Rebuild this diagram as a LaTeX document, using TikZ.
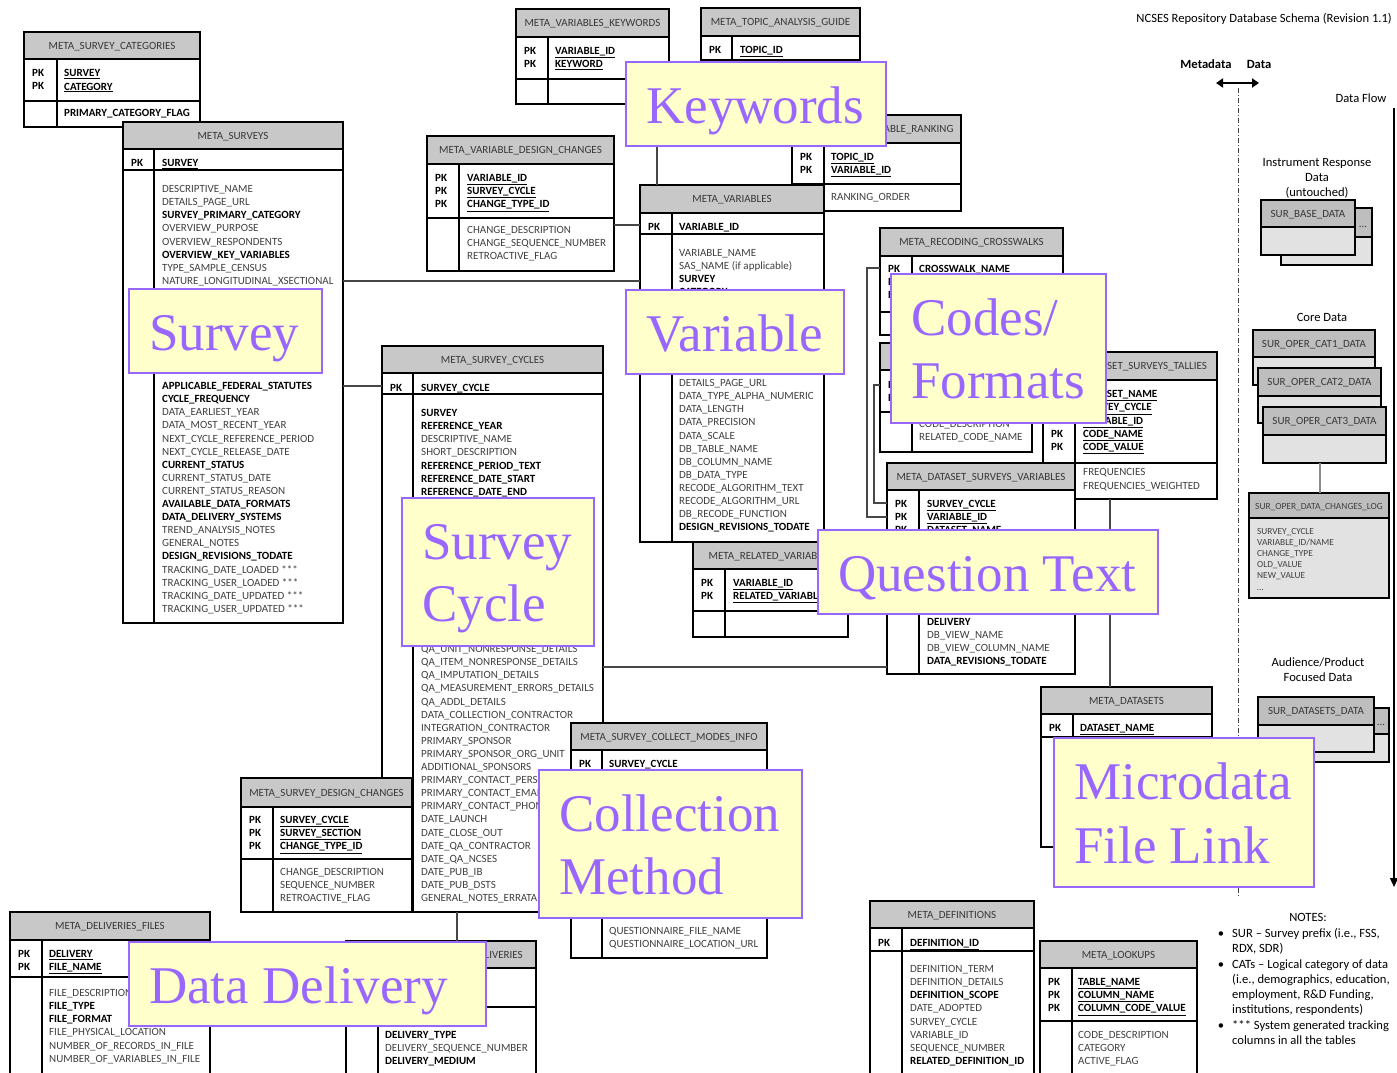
\documentclass[tikz,border=0pt]{standalone}
\usepackage{fontspec}
\setmainfont{Carlito}
\newfontfamily\labelfont{Liberation Serif}
\usetikzlibrary{arrows.meta}
\definecolor{hdrgray}{RGB}{200,200,200}
\definecolor{txtgray}{RGB}{64,64,64}
\definecolor{lblfill}{RGB}{255,255,204}
\definecolor{lblpurple}{RGB}{153,102,255}
\definecolor{dhdr}{RGB}{190,190,190}
\definecolor{dbody}{RGB}{226,226,226}
\newcommand\fldN[1]{\textcolor{txtgray}{#1}}
\newcommand\fldB[1]{\textbf{#1}}
\newcommand\fldU[1]{\textbf{\underline{#1}}}
\tikzset{
  tabshape/.style={fill=white, draw=none, inner sep=0pt, outer sep=0pt},
  datshape/.style={fill=dbody, draw=none, inner sep=0pt, outer sep=0pt},
  tabouter/.style={draw=black, line width=1.8pt},
  tabinner/.style={draw=black, line width=1.3pt},
  hdrtext/.style={font=\fontsize{11}{13}\selectfont, text=black!78, inner sep=0pt},
  fldtext/.style={font=\fontsize{11}{13}\selectfont, inner sep=0pt},
  logtext/.style={font=\fontsize{9.3}{11}\selectfont, text=txtgray, inner sep=0pt},
  conn/.style={draw=black!72, line width=1.1pt},
  lblbox/.style={fill=lblfill, draw=lblpurple, line width=1.6pt, inner sep=0pt, outer sep=0pt},
  lbltext/.style={font=\labelfont\fontsize{53}{60}\selectfont, text=lblpurple, inner sep=0pt},
  sidetext/.style={font=\fontsize{12.6}{15}\selectfont, inner sep=0pt},
}
\newcommand\ertab[9]{%
  \node[tabshape, anchor=north west, minimum width=#4pt-#2pt, minimum height=#5pt-#3pt] (#1) at (#2,#3) {};
  \fill[hdrgray] (#2,#3) rectangle (#4,#6);
  \draw[tabinner] (#2,#6) -- (#4,#6) (#2,#7) -- (#4,#7) (#8,#6) -- (#8,#5);
  \draw[tabouter] (#2,#3) rectangle (#4,#5);
  \node[hdrtext, anchor=base] (#1-title) at ({(#2+#4)/2},{(#3+#6)/2+3.6}) {#9};
}
\newcommand\ertfields[5]{%
  \foreach \tx [count=\k] in {#5} {
    \node[fldtext, anchor=base west] (#1-\k) at (#2,{#3+(\k-1)*#4+3.6}) {\tx};
  }}
\newcommand\ertpk[4]{%
  \foreach \k in {1,...,#4} {
    \node[fldtext, anchor=base west] (#1-pk\k) at (#2,{#3+(\k-1)*13.1+3.6}) {\textbf{PK}};
  }}
\newcommand\datbox[7]{%
  \node[datshape, anchor=north west, minimum width=#4pt-#2pt, minimum height=#5pt-#3pt] (#1) at (#2,#3) {};
  \fill[dhdr] (#2,#3) rectangle (#4,#6);
  \draw[tabinner] (#2,#6) -- (#4,#6);
  \draw[tabouter] (#2,#3) rectangle (#4,#5);
  \node[hdrtext, anchor=base] (#1-title) at ({(#2+#4)/2},{(#3+#6)/2+3.6}) {#7};
}
\newcommand\bigtag[5]{%
  \node[lblbox, anchor=north west, minimum width=#4pt-#2pt, minimum height=#5pt-#3pt] (#1) at (#2,#3) {};}
\begin{document}
\catcode`\_=12
\begin{tikzpicture}[x=1pt,y=-1pt]
\useasboundingbox (0,0) rectangle (1397,1073);
\fill[white] (0,0) rectangle (1397,1073);
\clip (0,0) rectangle (1397,1073);

% ---------- META_SURVEY_CATEGORIES
\ertab{cats}{24}{32}{200}{127}{59}{101}{57}{META_SURVEY_CATEGORIES}
\ertpk{cats}{32}{73}{2}
\ertfields{catsk}{64}{73}{13.5}{\fldU{SURVEY},\fldU{CATEGORY}}
\ertfields{catsa}{64}{113}{13}{\fldB{PRIMARY_CATEGORY_FLAG}}

% ---------- META_SURVEYS
\ertab{surveys}{123}{122}{343}{623}{149}{170}{154}{META_SURVEYS}
\ertpk{surveys}{131}{163}{1}
\ertfields{svk}{162}{163}{13}{\fldU{SURVEY}}
\ertfields{sva}{162}{189}{13.1}{\fldN{DESCRIPTIVE_NAME},\fldN{DETAILS_PAGE_URL},\fldB{SURVEY_PRIMARY_CATEGORY},\fldN{OVERVIEW_PURPOSE},\fldN{OVERVIEW_RESPONDENTS},\fldB{OVERVIEW_KEY_VARIABLES},\fldN{TYPE_SAMPLE_CENSUS},\fldN{NATURE_LONGITUDINAL_XSECTIONAL}}
\ertfields{svb}{162}{386}{13.1}{\fldB{APPLICABLE_FEDERAL_STATUTES},\fldB{CYCLE_FREQUENCY},\fldN{DATA_EARLIEST_YEAR},\fldN{DATA_MOST_RECENT_YEAR},\fldN{NEXT_CYCLE_REFERENCE_PERIOD},\fldN{NEXT_CYCLE_RELEASE_DATE},\fldB{CURRENT_STATUS},\fldN{CURRENT_STATUS_DATE},\fldN{CURRENT_STATUS_REASON},\fldB{AVAILABLE_DATA_FORMATS},\fldB{DATA_DELIVERY_SYSTEMS},\fldN{TREND_ANALYSIS_NOTES},\fldN{GENERAL_NOTES},\fldB{DESIGN_REVISIONS_TODATE},\fldN{TRACKING_DATE_LOADED ***},\fldN{TRACKING_USER_LOADED ***},\fldN{TRACKING_DATE_UPDATED ***},\fldN{TRACKING_USER_UPDATED ***}}

% ---------- META_VARIABLES_KEYWORDS
\ertab{kwtab}{516}{9}{669}{104}{37}{79}{548}{META_VARIABLES_KEYWORDS}
\ertpk{kwtab}{524}{51}{2}
\ertfields{kwk}{555}{51}{13.1}{\fldU{VARIABLE_ID},\fldU{KEYWORD}}

% ---------- META_TOPIC_ANALYSIS_GUIDE
\ertab{topic}{701}{8}{860}{100}{36}{60}{732}{META_TOPIC_ANALYSIS_GUIDE}
\ertpk{topic}{709}{50}{1}
\ertfields{topick}{740}{50}{13}{\fldU{TOPIC_ID}}

% ---------- META_TOPIC_VARIABLE_RANKING
\ertab{rank}{792}{115}{961}{211}{143}{184}{824}{META_TOPIC_VARIABLE_RANKING}
\ertpk{rank}{800}{157}{2}
\ertfields{rankk}{831}{157}{13.1}{\fldU{TOPIC_ID},\fldU{VARIABLE_ID}}
\ertfields{ranka}{831}{197}{13}{\fldN{RANKING_ORDER}}

% ---------- META_VARIABLE_DESIGN_CHANGES
\ertab{vdc}{427}{136}{614}{271}{164}{218}{459}{META_VARIABLE_DESIGN_CHANGES}
\ertpk{vdc}{435}{178}{3}
\ertfields{vdck}{467}{178}{13.1}{\fldU{VARIABLE_ID},\fldU{SURVEY_CYCLE},\fldU{CHANGE_TYPE_ID}}
\ertfields{vdca}{467}{230}{13}{\fldN{CHANGE_DESCRIPTION},\fldN{CHANGE_SEQUENCE_NUMBER},\fldN{RETROACTIVE_FLAG}}

% ---------- META_VARIABLES
\ertab{variables}{640}{185}{824}{542}{213}{234}{672}{META_VARIABLES}
\ertpk{variables}{648}{227}{1}
\ertfields{vark}{679}{227}{13}{\fldU{VARIABLE_ID}}
\ertfields{vara}{679}{253}{13.1}{\fldN{VARIABLE_NAME},\fldN{SAS_NAME (if applicable)},\fldB{SURVEY},\fldB{CATEGORY}}
\ertfields{varb}{679}{383}{13.1}{\fldN{DETAILS_PAGE_URL},\fldN{DATA_TYPE_ALPHA_NUMERIC},\fldN{DATA_LENGTH},\fldN{DATA_PRECISION},\fldN{DATA_SCALE},\fldN{DB_TABLE_NAME},\fldN{DB_COLUMN_NAME},\fldN{DB_DATA_TYPE},\fldN{RECODE_ALGORITHM_TEXT},\fldN{RECODE_ALGORITHM_URL},\fldN{DB_RECODE_FUNCTION},\fldB{DESIGN_REVISIONS_TODATE}}

% ---------- META_RELATED_VARIABLES
\ertab{relvar}{693}{542}{848}{637}{569}{611}{725}{META_RELATED_VARIABLES}
\ertpk{relvar}{701}{583}{2}
\ertfields{relk}{733}{583}{13.1}{\fldU{VARIABLE_ID},\fldU{RELATED_VARIABLE_ID}}

% ---------- META_SURVEY_CYCLES
\ertab{cycles}{382}{346}{603}{912}{373}{394}{413}{META_SURVEY_CYCLES}
\ertpk{cycles}{390}{388}{1}
\ertfields{cyck}{421}{388}{13}{\fldU{SURVEY_CYCLE}}
\ertfields{cyca}{421}{413}{13.1}{\fldB{SURVEY},\fldB{REFERENCE_YEAR},\fldN{DESCRIPTIVE_NAME},\fldN{SHORT_DESCRIPTION},\fldB{REFERENCE_PERIOD_TEXT},\fldB{REFERENCE_DATE_START},\fldB{REFERENCE_DATE_END}}
\ertfields{cycb}{421}{649}{13.1}{\fldN{QA_UNIT_NONRESPONSE_DETAILS},\fldN{QA_ITEM_NONRESPONSE_DETAILS},\fldN{QA_IMPUTATION_DETAILS},\fldN{QA_MEASUREMENT_ERRORS_DETAILS},\fldN{QA_ADDL_DETAILS},\fldN{DATA_COLLECTION_CONTRACTOR},\fldN{INTEGRATION_CONTRACTOR},\fldN{PRIMARY_SPONSOR},\fldN{PRIMARY_SPONSOR_ORG_UNIT},\fldN{ADDITIONAL_SPONSORS},\fldN{PRIMARY_CONTACT_PERSON},\fldN{PRIMARY_CONTACT_EMAIL},\fldN{PRIMARY_CONTACT_PHONE},\fldN{DATE_LAUNCH},\fldN{DATE_CLOSE_OUT},\fldN{DATE_QA_CONTRACTOR},\fldN{DATE_QA_NCSES},\fldN{DATE_PUB_IB},\fldN{DATE_PUB_DSTS},\fldN{GENERAL_NOTES_ERRATA}}

% ---------- META_SURVEY_DESIGN_CHANGES
\ertab{sdc}{241}{778}{412}{912}{807}{859}{273}{META_SURVEY_DESIGN_CHANGES}
\ertpk{sdc}{249}{820}{3}
\ertfields{sdck}{280}{820}{13.1}{\fldU{SURVEY_CYCLE},\fldU{SURVEY_SECTION},\fldU{CHANGE_TYPE_ID}}
\ertfields{sdca}{280}{872}{13}{\fldN{CHANGE_DESCRIPTION},\fldN{SEQUENCE_NUMBER},\fldN{RETROACTIVE_FLAG}}

% ---------- META_SURVEY_COLLECT_MODES_INFO
\ertab{collect}{571}{723}{767}{958}{750}{778}{602}{META_SURVEY_COLLECT_MODES_INFO}
\ertpk{collect}{579}{764}{1}
\ertfields{colk}{609}{764}{13}{\fldU{SURVEY_CYCLE}}
\ertfields{cola}{609}{931}{13}{\fldN{QUESTIONNAIRE_FILE_NAME},\fldN{QUESTIONNAIRE_LOCATION_URL}}

% ---------- META_DELIVERIES_FILES
\ertab{delfiles}{10}{912}{210}{1085}{940}{977}{42}{META_DELIVERIES_FILES}
\ertpk{delfiles}{18}{954}{2}
\ertfields{dfk}{49}{954}{13.1}{\fldU{DELIVERY},\fldU{FILE_NAME}}
\ertfields{dfa}{49}{993}{13.1}{\fldN{FILE_DESCRIPTION},\fldB{FILE_TYPE},\fldB{FILE_FORMAT},\fldN{FILE_PHYSICAL_LOCATION},\fldN{NUMBER_OF_RECORDS_IN_FILE},\fldN{NUMBER_OF_VARIABLES_IN_FILE}}

% ---------- META_DELIVERIES
\ertab{deliv}{346}{941}{536}{1085}{968}{1007}{378}{}
\node[hdrtext, anchor=base east] (deliv-name) at (523,958) {META_DELIVERIES};
\ertfields{dela}{385}{1035}{13}{\fldB{DELIVERY_TYPE},\fldN{DELIVERY_SEQUENCE_NUMBER},\fldB{DELIVERY_MEDIUM}}

% ---------- META_RECODING_CROSSWALKS
\ertab{xwalk}{880}{228}{1063}{335}{256}{312}{912}{META_RECODING_CROSSWALKS}
\ertpk{xwalk}{888}{269}{3}
\ertfields{xwk}{919}{269}{13}{\fldB{CROSSWALK_NAME}}

% ---------- codes table (title hidden)
\ertab{codes}{880}{343}{1032}{452}{370}{412}{912}{}
\ertpk{codes}{888}{385}{2}
\ertfields{coda}{919}{424}{13}{\fldN{CODE_DESCRIPTION},\fldN{RELATED_CODE_NAME}}

% ---------- META_DATASET_SURVEYS_TALLIES
\ertab{tallies}{1043}{352}{1217}{499}{380}{463}{1075}{META_DATASET_SURVEYS_TALLIES}
\ertpk{tallies}{1051}{434}{2}
\ertfields{talk}{1083}{394}{13.2}{\fldU{DATASET_NAME},\fldU{SURVEY_CYCLE},\fldU{VARIABLE_ID},\fldU{CODE_NAME},\fldU{CODE_VALUE}}
\ertfields{tala}{1083}{472}{13.5}{\fldN{FREQUENCIES},\fldN{FREQUENCIES_WEIGHTED}}

% ---------- META_DATASET_SURVEYS_VARIABLES
\ertab{dsv}{887}{463}{1075}{674}{490}{538}{919}{META_DATASET_SURVEYS_VARIABLES}
\ertpk{dsv}{895}{504}{3}
\ertfields{dsvk}{927}{504}{13.1}{\fldU{SURVEY_CYCLE},\fldU{VARIABLE_ID},\fldU{DATASET_NAME}}
\ertfields{dsva}{927}{622}{13.1}{\fldB{DELIVERY},\fldN{DB_VIEW_NAME},\fldN{DB_VIEW_COLUMN_NAME},\fldB{DATA_REVISIONS_TODATE}}

% ---------- META_DATASETS
\ertab{datasets}{1041}{687}{1212}{847}{714}{737}{1073}{META_DATASETS}
\ertpk{datasets}{1049}{728}{1}
\ertfields{dsk}{1080}{728}{13}{\fldU{DATASET_NAME}}

% ---------- META_DEFINITIONS
\ertab{defs}{870}{901}{1034}{1085}{928}{951}{902}{META_DEFINITIONS}
\ertpk{defs}{878}{943}{1}
\ertfields{defk}{910}{943}{13}{\fldU{DEFINITION_ID}}
\ertfields{defa}{910}{969}{13.1}{\fldN{DEFINITION_TERM},\fldN{DEFINITION_DETAILS},\fldB{DEFINITION_SCOPE},\fldN{DATE_ADOPTED},\fldN{SURVEY_CYCLE},\fldN{VARIABLE_ID},\fldN{SEQUENCE_NUMBER},\fldB{RELATED_DEFINITION_ID}}

% ---------- META_LOOKUPS
\ertab{lookups}{1040}{941}{1197}{1085}{968}{1021}{1072}{META_LOOKUPS}
\ertpk{lookups}{1048}{982}{3}
\ertfields{lkk}{1078}{982}{13.1}{\fldU{TABLE_NAME},\fldU{COLUMN_NAME},\fldU{COLUMN_CODE_VALUE}}
\ertfields{lka}{1078}{1035}{13}{\fldN{CODE_DESCRIPTION},\fldN{CATEGORY},\fldN{ACTIVE_FLAG}}

% ---------- connectors
\draw[conn] (surveys.east |- 0,281) -- (variables.west |- 0,281);
\draw[conn] (surveys.east |- 0,386) -- (cycles.west |- 0,386);
\draw[conn] (vdc.east |- 0,225) -- (variables.west |- 0,225);
\draw[conn] (kwtab.south -| 657,0) -- (variables.north -| 657,0);
\draw[conn] (cycles.east |- 0,667) -- (dsv.west |- 0,667);
\draw[conn] (xwalk.west |- 0,268) -- ++(-13,0) |- (dsv.west |- 0,517);
\draw[conn] (codes.west |- 0,385) -- ++(-6,0) |- (dsv.west |- 0,503);
\draw[conn] (tallies.south -| 1110,0) -- (datasets.north -| 1110,0);
\draw[conn] (cycles.south -| 457,0) -- (deliv.north -| 457,0);

% ---------- right side: data
\node[sidetext, anchor=base east] (title) at (1392,23) {NCSES Repository Database Schema (Revision 1.1)};
\node[sidetext, font=\fontsize{12.6}{15}\selectfont\bfseries, anchor=base] (mdtext) at (1206,69) {Metadata};
\node[sidetext, font=\fontsize{12.6}{15}\selectfont\bfseries, anchor=base] (dtext) at (1259,69) {Data};
\coordinate (mdl) at (1216,83);
\coordinate (mdr) at (1259,83);
\draw[{Triangle[length=7pt,width=9pt]}-{Triangle[length=7pt,width=9pt]}, line width=1.8pt] (mdl) -- (mdr);
\coordinate (divtop) at (1238,88);
\coordinate (divbot) at (1238,897);
\draw[black!75, line width=1pt, dash pattern=on 5pt off 2pt on 1pt off 2pt] (divtop) -- (divbot);
\node[sidetext, anchor=base] (flowtext) at (1361,102) {Data Flow};
\coordinate (flowtop) at (1394,108);
\coordinate (flowbot) at (1394,887);
\draw[-{Triangle[length=9pt,width=8pt]}, line width=1.4pt] (flowtop) -- (flowbot);

\node[sidetext, anchor=base] (irt1) at (1317,166) {Instrument Response};
\node[sidetext, anchor=base] (irt2) at (1317,181) {Data};
\node[sidetext, anchor=base] (irt3) at (1317,196) {(untouched)};
\datbox{basebk}{1281}{208}{1372}{265}{237}{}
\node[hdrtext, anchor=base] (basebk-dots) at (1363,227) {...};
\datbox{base}{1261}{200}{1355}{255}{227}{SUR_BASE_DATA}

\node[sidetext, anchor=base] (coretext) at (1322,321) {Core Data};
\datbox{cat1}{1253}{330}{1375}{385}{357}{SUR_OPER_CAT1_DATA}
\datbox{cat2}{1258}{368}{1381}{423}{396}{SUR_OPER_CAT2_DATA}
\datbox{cat3}{1263}{407}{1386}{463}{435}{SUR_OPER_CAT3_DATA}
\datbox{chlog}{1249}{493}{1389}{598}{518}{}
\node[logtext, font=\fontsize{9.4}{11}\selectfont, anchor=base] (chlog-name) at (1319,509) {SUR_OPER_DATA_CHANGES_LOG};
\node[logtext, anchor=base west] (chlog-1) at (1257,534) {SURVEY_CYCLE};
\node[logtext, anchor=base west] (chlog-2) at (1257,545) {VARIABLE_ID/NAME};
\node[logtext, anchor=base west] (chlog-3) at (1257,556) {CHANGE_TYPE};
\node[logtext, anchor=base west] (chlog-4) at (1257,567) {OLD_VALUE};
\node[logtext, anchor=base west] (chlog-5) at (1257,578) {NEW_VALUE};
\node[logtext, anchor=base west] (chlog-6) at (1257,590) {\ldots};
\draw[draw=black!45, line width=1.4pt] (cat3.south -| 1320,0) -- (chlog.north -| 1320,0);

\node[sidetext, anchor=base] (aud1) at (1318,666) {Audience/Product};
\node[sidetext, anchor=base] (aud2) at (1318,681) {Focused Data};
\datbox{dsbk}{1278}{708}{1389}{762}{734}{}
\node[hdrtext, anchor=base] (dsbk-dots) at (1381,725) {...};
\datbox{dsdata}{1258}{697}{1374}{752}{725}{SUR_DATASETS_DATA}

% ---------- notes
\node[sidetext, anchor=base] (notes) at (1308,921) {NOTES:};
\node[sidetext, anchor=base] (nb1) at (1221,937) {\textbullet};
\node[sidetext, anchor=base] (nb2) at (1221,968) {\textbullet};
\node[sidetext, anchor=base] (nb3) at (1221,1029) {\textbullet};
\node[sidetext, anchor=base west] (n1) at (1232,937) {SUR – Survey prefix (i.e., FSS,};
\node[sidetext, anchor=base west] (n2) at (1232,952) {RDX, SDR)};
\node[sidetext, anchor=base west] (n3) at (1232,968) {CATs – Logical category of data};
\node[sidetext, anchor=base west] (n4) at (1232,983) {(i.e., demographics, education,};
\node[sidetext, anchor=base west] (n5) at (1232,998) {employment, R\&D Funding,};
\node[sidetext, anchor=base west] (n6) at (1232,1013) {institutions, respondents)};
\node[sidetext, anchor=base west] (n7) at (1232,1029) {*** System generated tracking};
\node[sidetext, anchor=base west] (n8) at (1232,1044) {columns in all the tables};

% ---------- overlay labels
\bigtag{tagkw}{626}{62}{886}{146}
\node[lbltext, anchor=base west] (tagkw-t) at (646,123) {Keywords};
\bigtag{tagsv}{129}{289}{322}{373}
\node[lbltext, anchor=base west] (tagsv-t) at (149,350) {Survey};
\bigtag{tagvar}{626}{290}{844}{374}
\node[lbltext, anchor=base west] (tagvar-t) at (646,351) {Variable};
\bigtag{tagcf}{891}{274}{1106}{423}
\node[lbltext, anchor=base west] (tagcf-t1) at (911,335) {Codes/};
\node[lbltext, anchor=base west] (tagcf-t2) at (911,398) {Formats};
\bigtag{tagsc}{402}{498}{594}{646}
\node[lbltext, anchor=base west] (tagsc-t1) at (422,559) {Survey};
\node[lbltext, anchor=base west] (tagsc-t2) at (422,621) {Cycle};
\bigtag{tagqt}{818}{530}{1158}{614}
\node[lbltext, anchor=base west] (tagqt-t) at (838,591) {Question Text};
\bigtag{tagcm}{539}{770}{802}{918}
\node[lbltext, anchor=base west] (tagcm-t1) at (559,831) {Collection};
\node[lbltext, anchor=base west] (tagcm-t2) at (559,894) {Method};
\bigtag{tagmf}{1054}{738}{1314}{887}
\node[lbltext, anchor=base west] (tagmf-t1) at (1074,799) {Microdata};
\node[lbltext, anchor=base west] (tagmf-t2) at (1074,863) {File Link};
\bigtag{tagdd}{129}{942}{486}{1026}
\node[lbltext, anchor=base west] (tagdd-t) at (149,1003) {Data Delivery};
\end{tikzpicture}
\end{document}
